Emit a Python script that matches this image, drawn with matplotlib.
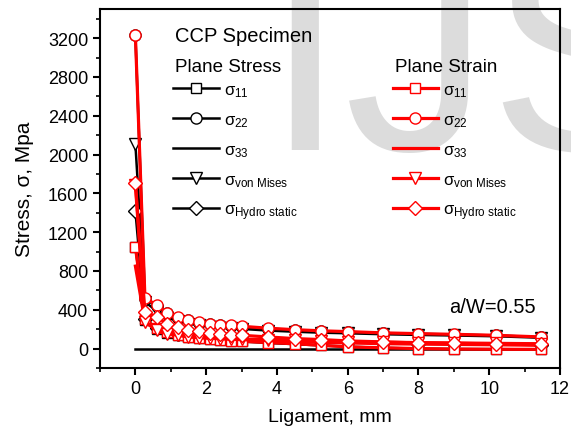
import numpy as np
import matplotlib
matplotlib.use("Agg")
import matplotlib.pyplot as plt
from matplotlib.ticker import MultipleLocator

plt.rcParams['font.family'] = ['Liberation Sans', 'DejaVu Sans']
plt.rcParams['mathtext.fontset'] = 'custom'
plt.rcParams['mathtext.rm'] = 'Liberation Sans'
plt.rcParams['mathtext.it'] = 'Liberation Sans'
plt.rcParams['mathtext.sf'] = 'Liberation Sans'

# ligament positions, mm
lig = [0, 0.27, 0.6, 0.9, 1.2, 1.5, 1.8, 2.1, 2.4, 2.7, 3.0,
       3.75, 4.5, 5.25, 6.0, 7.0, 8.0, 9.0, 10.2, 11.45]

# plane stress (black)
ps_s11 = [1050, 290, 205, 165, 140, 120, 106, 96, 88, 80, 74, 58, 46, 32, 20, 8, 0, -4, -6, -8]
ps_s22 = [3230, 510, 440, 362, 318, 290, 268, 252, 242, 234, 226, 206, 192, 180, 172, 160, 152, 145, 135, 118]
ps_s33 = [0] * 20
ps_vm = [2110, 480, 390, 320, 282, 258, 240, 226, 217, 210, 203, 186, 174, 164, 158, 148, 141, 135, 127, 112]
ps_hyd = [1420, 300, 215, 176, 153, 137, 125, 116, 110, 105, 100, 88, 79, 71, 64, 56, 51, 47, 43, 37]

# plane strain (red)
pe_s11 = [1050, 300, 210, 170, 143, 124, 110, 99, 90, 82, 75, 62, 50, 34, 18, 8, 0, -5, -7, -8]
pe_s22 = [3230, 520, 450, 370, 326, 296, 274, 257, 247, 240, 230, 210, 195, 183, 175, 162, 154, 147, 137, 120]
pe_s33 = [850, 280, 200, 162, 141, 126, 115, 107, 101, 97, 92, 82, 73, 65, 58, 51, 46, 43, 39, 34]
pe_vm = [1690, 274, 188, 154, 137, 120, 113, 108, 104, 100, 97, 90, 84, 78, 72, 66, 62, 58, 54, 50]
pe_hyd = [1710, 380, 326, 257, 223, 195, 178, 161, 154, 144, 137, 120, 103, 93, 79, 69, 58, 55, 48, 45]

labels = [r'σ$_{\mathrm{11}}$', r'σ$_{\mathrm{22}}$', r'σ$_{\mathrm{33}}$',
          r'σ$_{\mathrm{von\ Mises}}$', r'σ$_{\mathrm{Hydro\ static}}$']
markers = ['s', 'o', None, 'v', 'D']
msizes = [7.5, 8, 0, 8, 7.5]

fig = plt.figure(figsize=(5.71, 4.35), dpi=100)
ax = fig.add_axes([100/571, 66/435, 460/571, 359/435])
ax.patch.set_visible(False)

# watermark behind the plot
fig.text(264/571, 285/435, 'IJSER', fontsize=209, color='#dcdcdc',
         ha='left', va='baseline', zorder=-5)

black = []
for ys, m, ms, lab in zip([ps_s11, ps_s22, ps_s33, ps_vm, ps_hyd], markers, msizes, labels):
    h, = ax.plot(lig, ys, color='black', lw=1.8, marker=m, ms=ms,
                 mfc='white', mec='black', mew=1.0, label=lab, zorder=2)
    black.append(h)

red = []
for ys, m, ms, lab in zip([pe_s11, pe_s22, pe_s33, pe_vm, pe_hyd], markers, msizes, labels):
    h, = ax.plot(lig, ys, color='red', lw=2.3, marker=m, ms=ms,
                 mfc='white', mec='red', mew=1.0, label=lab, zorder=3)
    red.append(h)

ax.set_xlim(-1, 12)
ax.set_ylim(-200, 3500)
ax.xaxis.set_major_locator(MultipleLocator(2))
ax.xaxis.set_minor_locator(MultipleLocator(1))
ax.yaxis.set_minor_locator(MultipleLocator(200))
ax.set_yticks(np.arange(0, 3201, 400))
ax.tick_params(which='major', direction='out', length=5, width=1.5, labelsize=13)
ax.tick_params(which='minor', direction='out', length=3, width=1.2)
for s in ax.spines.values():
    s.set_linewidth(1.5)

ax.set_xlabel('Ligament, mm', fontsize=14, labelpad=8)
ax.set_ylabel('Stress, σ, Mpa', fontsize=15, labelpad=10)

ax.text(0.163, 0.927, 'CCP Specimen', transform=ax.transAxes, fontsize=14.5,
        ha='left', va='center')
ax.text(0.163, 0.839, 'Plane Stress', transform=ax.transAxes, fontsize=13.5,
        ha='left', va='center')
ax.text(0.641, 0.839, 'Plane Strain', transform=ax.transAxes, fontsize=13.5,
        ha='left', va='center')
ax.text(10.1, 430, 'a/W=0.55', fontsize=14.5, ha='center', va='center')

leg_kw = dict(loc='upper left', frameon=False, fontsize=12,
              handlelength=2.75, handletextpad=0.3, labelspacing=0.8,
              borderpad=0, borderaxespad=0)
leg1 = ax.legend(handles=black, bbox_to_anchor=(0.158, 0.797), **leg_kw)
ax.add_artist(leg1)
leg2 = ax.legend(handles=red, bbox_to_anchor=(0.636, 0.797), **leg_kw)

fig.savefig('out.png', dpi=100)
